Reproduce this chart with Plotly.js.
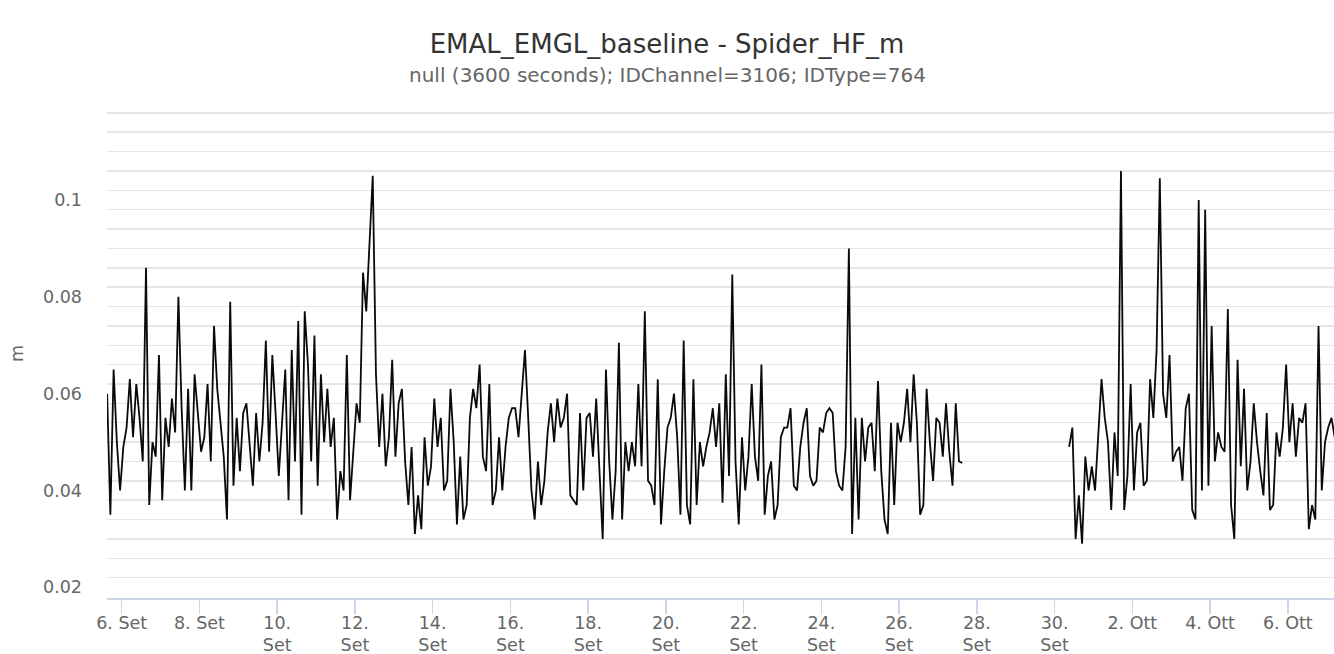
<!DOCTYPE html>
<html>
<head>
<meta charset="utf-8">
<script src="https://cdn.plot.ly/plotly-3.0.1.min.js"></script>
<style>
  html, body { margin: 0; padding: 0; background: #ffffff; }
  #chart { width: 1334px; height: 654px; }
</style>
</head>
<body>
<div id="chart"></div>
<script>
// ---------------- DATA ----------------
const chartTitle = 'EMAL_EMGL_baseline - Spider_HF_m';
const chartSubtitle = 'null (3600 seconds); IDChannel=3106; IDType=764';
const yUnit = 'm';

// sampled every 2 hours
const stepHours = 2;
const seg1Start = '2023-09-05 15:00';
const seg1Values = [
  0.060, 0.035, 0.065, 0.050, 0.040, 0.049, 0.053, 0.063, 0.051, 0.062,
  0.055, 0.046, 0.086, 0.037, 0.050, 0.047, 0.068, 0.038, 0.055, 0.049,
  0.059, 0.052, 0.080, 0.057, 0.040, 0.061, 0.040, 0.064, 0.056, 0.048,
  0.051, 0.062, 0.046, 0.074, 0.061, 0.054, 0.047, 0.034, 0.079, 0.041,
  0.055, 0.044, 0.056, 0.058, 0.049, 0.041, 0.056, 0.046, 0.054, 0.071,
  0.048, 0.068, 0.056, 0.043, 0.054, 0.065, 0.038, 0.069, 0.046, 0.075,
  0.035, 0.077, 0.066, 0.046, 0.072, 0.041, 0.064, 0.050, 0.061, 0.049,
  0.055, 0.034, 0.044, 0.040, 0.068, 0.038, 0.048, 0.058, 0.054, 0.085,
  0.077, 0.090, 0.105, 0.064, 0.049, 0.060, 0.045, 0.051, 0.067, 0.047,
  0.058, 0.061, 0.046, 0.037, 0.049, 0.031, 0.039, 0.032, 0.051, 0.041,
  0.045, 0.059, 0.049, 0.055, 0.040, 0.042, 0.061, 0.050, 0.033, 0.047,
  0.034, 0.037, 0.055, 0.061, 0.057, 0.066, 0.047, 0.044, 0.062, 0.037,
  0.040, 0.051, 0.040, 0.049, 0.055, 0.057, 0.057, 0.051, 0.061, 0.069,
  0.055, 0.040, 0.034, 0.046, 0.037, 0.042, 0.052, 0.058, 0.050, 0.059,
  0.053, 0.055, 0.060, 0.039, 0.038, 0.037, 0.056, 0.040, 0.055, 0.056,
  0.047, 0.059, 0.044, 0.030, 0.065, 0.046, 0.034, 0.044, 0.0705, 0.034,
  0.050, 0.044, 0.050, 0.045, 0.062, 0.045, 0.077, 0.042, 0.041, 0.037,
  0.063, 0.033, 0.044, 0.053, 0.055, 0.060, 0.051, 0.035, 0.071, 0.037,
  0.033, 0.063, 0.037, 0.050, 0.045, 0.049, 0.052, 0.057, 0.049, 0.058,
  0.0375, 0.064, 0.043, 0.0846, 0.046, 0.033, 0.051, 0.040, 0.047, 0.062,
  0.047, 0.042, 0.066, 0.035, 0.043, 0.046, 0.034, 0.037, 0.051, 0.053,
  0.053, 0.057, 0.041, 0.040, 0.049, 0.054, 0.057, 0.043, 0.041, 0.042,
  0.053, 0.052, 0.056, 0.057, 0.056, 0.044, 0.041, 0.040, 0.049, 0.090,
  0.031, 0.055, 0.034, 0.055, 0.046, 0.053, 0.054, 0.044, 0.0626, 0.044,
  0.034, 0.031, 0.054, 0.037, 0.054, 0.050, 0.054, 0.061, 0.050, 0.064,
  0.054, 0.035, 0.037, 0.061, 0.050, 0.042, 0.055, 0.054, 0.047, 0.058,
  0.048, 0.041, 0.058, 0.046, 0.0457
];

const seg2Start = '2023-09-30 09:00';
const seg2Values = [
  0.049, 0.053, 0.030, 0.039, 0.029, 0.047, 0.040, 0.045, 0.040, 0.052,
  0.063, 0.055, 0.050, 0.036, 0.052, 0.043, 0.106, 0.036, 0.043, 0.062,
  0.040, 0.052, 0.054, 0.041, 0.042, 0.063, 0.055, 0.069, 0.1045, 0.060,
  0.055, 0.068, 0.046, 0.048, 0.049, 0.042, 0.057, 0.060, 0.036, 0.034,
  0.100, 0.040, 0.098, 0.041, 0.074, 0.046, 0.052, 0.049, 0.048, 0.0775,
  0.037, 0.030, 0.067, 0.045, 0.061, 0.040, 0.046, 0.058, 0.050, 0.044,
  0.039, 0.056, 0.036, 0.037, 0.052, 0.047, 0.053, 0.066, 0.050, 0.058,
  0.047, 0.055, 0.054, 0.058, 0.032, 0.037, 0.034, 0.074, 0.040, 0.050,
  0.053, 0.055, 0.051
];

const tickDates = [
  '2023-09-06', '2023-09-08', '2023-09-10', '2023-09-12', '2023-09-14',
  '2023-09-16', '2023-09-18', '2023-09-20', '2023-09-22', '2023-09-24',
  '2023-09-26', '2023-09-28', '2023-09-30', '2023-10-02', '2023-10-04',
  '2023-10-06'
];
const tickLabels = [
  '6. Set', '8. Set', '10.<br>Set', '12.<br>Set', '14.<br>Set',
  '16.<br>Set', '18.<br>Set', '20.<br>Set', '22.<br>Set', '24.<br>Set',
  '26.<br>Set', '28.<br>Set', '30.<br>Set', '2. Ott', '4. Ott',
  '6. Ott'
];
const xRange = ['2023-09-05 14:55', '2023-10-07 04:33'];
const yRange = [0.0178, 0.1188];

// ---------------- BUILD ----------------
function timeAxis(start, n, stepH) {
  const base = Date.parse(start.replace(' ', 'T') + ':00Z');
  const out = [];
  for (let i = 0; i < n; i++) {
    out.push(new Date(base + i * stepH * 3600000).toISOString().slice(0, 19).replace('T', ' '));
  }
  return out;
}

const lineStyle = { color: '#0a0a0a', width: 1.8 };
const traces = [
  { type: 'scatter', mode: 'lines', x: timeAxis(seg1Start, seg1Values.length, stepHours), y: seg1Values,
    line: lineStyle, hoverinfo: 'skip', showlegend: false },
  { type: 'scatter', mode: 'lines', x: timeAxis(seg2Start, seg2Values.length, stepHours), y: seg2Values,
    line: lineStyle, hoverinfo: 'skip', showlegend: false }
];

const FONT = 'DejaVu Sans, Verdana, sans-serif';
const layout = {
  width: 1334, height: 654,
  paper_bgcolor: '#ffffff', plot_bgcolor: '#ffffff',
  margin: { l: 107, r: 0, t: 109, b: 56 },
  showlegend: false,
  font: { family: FONT, color: '#666666' },
  title: {
    text: chartTitle,
    font: { family: FONT, size: 26, color: '#333333' },
    x: 0.5, xanchor: 'center', xref: 'container',
    y: 1 - 44 / 654, yanchor: 'middle', yref: 'container'
  },
  annotations: [{
    text: chartSubtitle, showarrow: false,
    xref: 'paper', yref: 'paper', x: (667 - 107) / 1227, y: 1 + (109 - 75) / 489,
    xanchor: 'center', yanchor: 'middle',
    font: { family: FONT, size: 20, color: '#666666' }
  }],
  xaxis: {
    type: 'date', range: xRange,
    tickmode: 'array', tickvals: tickDates, ticktext: tickLabels,
    showgrid: false, zeroline: false,
    showline: true, linecolor: '#ccd6eb', linewidth: 1.5,
    ticks: 'outside', ticklen: 14, tickwidth: 1.5, tickcolor: '#ccd6eb',
    ticklabelstandoff: -6,
    tickfont: { family: FONT, size: 17.5, color: '#666666' },
    fixedrange: true
  },
  yaxis: {
    range: yRange,
    tickmode: 'linear', tick0: 0, dtick: 0.02,
    showgrid: false, zeroline: false, showline: false,
    ticks: '', ticklabelstandoff: 24,
    tickfont: { family: FONT, size: 17.5, color: '#666666' },
    title: { text: yUnit, font: { family: FONT, size: 17.5, color: '#666666' }, standoff: 14 },
    minor: { tickmode: 'linear', tick0: 0.018, dtick: 0.004, showgrid: true, gridcolor: '#e6e6e6', gridwidth: 1.5, ticks: '' },
    fixedrange: true
  },
  hovermode: false
};

Plotly.newPlot('chart', traces, layout, { displayModeBar: false, staticPlot: true });
</script>
</body>
</html>
